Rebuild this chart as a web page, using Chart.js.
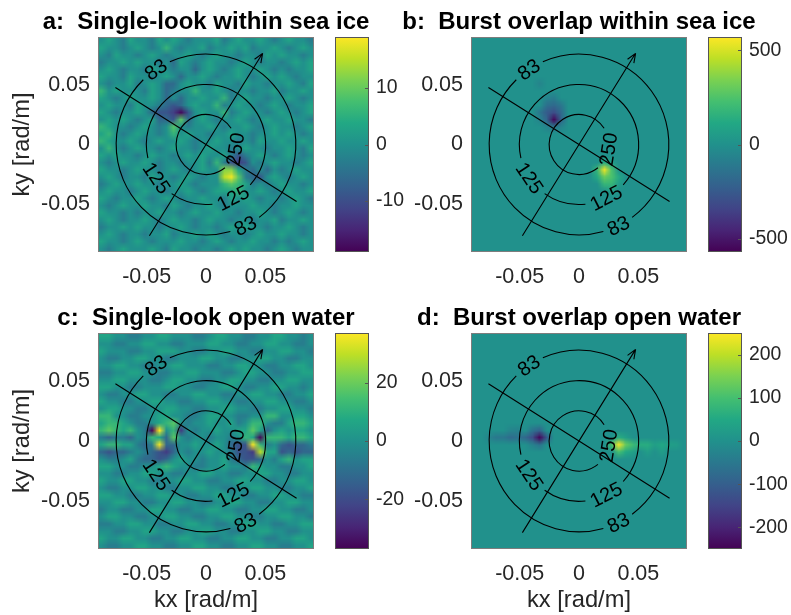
<!DOCTYPE html>
<html lang="en">
<head>
<meta charset="utf-8">
<title>Cross-spectra: sea ice and open water</title>
<script src="https://cdn.jsdelivr.net/npm/chart.js@4.4.1/dist/chart.umd.min.js"></script>
<style>
  html, body { margin: 0; background: #fff; }
  #figure { position: relative; width: 791px; height: 615px; overflow: hidden; }
  #figure canvas { position: absolute; }
</style>
</head>
<body>
<div id="figure"></div>
<script>
// ---- data -------------------------------------------------------------

const panelTitles = [
    'a:  Single-look within sea ice',
    'b:  Burst overlap within sea ice',
    'c:  Single-look open water',
    'd:  Burst overlap open water'
];

const kTicks = [-0.05, 0, 0.05];
const kTickLabels = ['-0.05', '0', '0.05'];
const kxLimit = 0.091;
const kyLimit = 0.09;

// wavelength rings (m) and the propagation cross
const ringWavelengths = [250, 125, 83];
const waveHeading = 58;        // degrees from +kx
const crossHalfLength = 0.09;  // rad/m

// colour limits and colourbar ticks per panel
const colorLimits = [19, 570, 37, 250];
const colorTicksA = [-10, 0, 10];
const colorTicksB = [-500, 0, 500];
const colorTicksC = [-20, 0, 20];
const colorTicksD = [-200, -100, 0, 100, 200];

// 30 x 30 spectra, rows from +ky (top) to -ky, columns from -kx to +kx.
// '.' = 0, 'A'..'I' = +1..+9 steps, 'a'..'i' = -1..-9 steps
const gridSize = 30;
const singleLookIceStep = 3;
const singleLookIce = [
    '.A.aA ..aA. A.a.. .Aa.A ..A.a .A..a',
    'A..a. A.a.B .a..A a..A. Aa..A .a.A.',
    '.aA.. a.A.a ..A.a .A..a ..aA. A..a.',
    'a..A. A..a. bA.a. A..a. A.a.. a.A.A',
    '.A.a. .aA.. a..b. A.a.A ..A.a .a..A',
    'A..aA ..a.A .b..A .a..A .a.A. A.a..',
    '.a..A a.A.b b.A.. aA..a A..a. .A.aA',
    'B.A.. .aA.b a..B. .A.a. .a..A a..A.',
    'A.a.A ..A.b .b..A ..Ba. A..a. .A.a.',
    '.A..a A..ab cb.A. .Ba.A ..a.A .a..A',
    'A.a.. A.bcc dfc.A ..Ba. A..a. A.a.A',
    '.A.A. a.Abb cCb.A .a..A .a.A. .A..a',
    'BA..a .A.a. C.a.. A.a.. A.a.A ..a.A',
    'AB.a. A..a. B.A.. a..A. .a..A .A.a.',
    'BA..A .a.A. .A.a. .A..a .aA.. A..A.',
    '.B.a. A..a. A..a. A..a. A..a. .A.aA',
    'A.A.. a.A.. a.A.A ..Aac a.A.a .A.a.',
    '.a.A. .A.a. .a..A aBacd c.a.A ..a.A',
    'A..a. A..a. A.a.A ..DDA ab.b. a.A..',
    '.A.a. .aA.. a.A.a ..EFC abc.A .a.A.',
    'a.A.. A..a. .A.a. ..BCB Aa.a. A..a.',
    '.A..a .A..a ..A.a .AAAB ..A.a .A..A',
    'A.a.. A.a.A .a..A ..aA. A.a.. a.A.a',
    '.a.A. .A..a A.a.. A.a.. .A..a ..A..',
    'A..a. a..A. .a.A. .A..a ..A.a .A.a.',
    '.A.a. .A.a. A..a. A..a. .a..A a..A.',
    'a..A. A..a. .A.a. .a.A. A..a. .A.a.',
    '.A.a. .a..A a..A. A.a.. a.A.. A..a.',
    'A..a. A.a.. .A..a .A.a. .A..a .a.A.',
    '.a.A. ..A.a A..a. .a.A. A..a. A.a..'
];

const singleLookWaterStep = 6;
const singleLookWater = [
    'AA..a a..AA ...aa .AA.. aa..A A..a.',
    '..aa. .AA.. aa... AA..a a..AA ..aa.',
    'A...a a..AA A..aa ..AA. .aa.. AA..a',
    '.aa.. AA..a a...A A..aa ..AA. .aa..',
    '..AA. .aa.. AA... aa..A A..aa ..AA.',
    'aa..A A..aa ..AA. ..aa. AA..a a..AA',
    '..AA. ..aa. AA..a a..AA ..aa. .AA..',
    'AA..a a...A A..aa ..AA. aa..A A..a.',
    '.aa.. AA..a a..AA ..aa. .AA.. aa..A',
    'A..aa ..AA. .aa.. AA..a a..AA ..aa.',
    '.AA.. aa..A A..aa ..AA. .aa.. AA..a',
    'BB..a a..AA ..aa. AA..a a..BB ..AA.',
    'ABBA. aa.AB C.a.. A..Aa .BB.a aABBA',
    'BCBAB .afF. Bd.a. .A..A ACAb. A.AA.',
    'abaab .aBAb C.a.. a..a. BAfBB BABBA',
    'ABBAA abaFb b..A. .A.bc cFBa. bcbba',
    'bcbba .abcd b.a.. A..ac cdEAA cbcbb',
    '.aa.A abbcb .A..a ..Aab ccb.a AB.AA',
    'AA..a a..AB A..aa ..A.. aBA.. aa..A',
    '..aa. .AA.. aa..A A..aa ..AA. .aa..',
    'A..AA ..aa. .AA.. aa..A A..aa ..AA.',
    '.aa.. AA..a a..AA ..aa. .AA.. aa..A',
    'AA..a a..AA ..aa. .AA.. aa..A A..aa',
    '..AA. .aa.. AA..a a..AA ..aa. .AA..',
    'a..aa ..AA. .aa.. AA..a a..AA ..aa.',
    '.AA.. aa..A A..aa ..AA. .aa.. AA..a',
    'aa..A A..aa ..AA. .aa.. AA..a a..AA',
    '..aa. .AA.. aa..A A..aa ..AA. .aa..',
    'A..AA ..aa. .AA.. aa..A A..aa ..AA.',
    '.aa.. AA..a a..AA ..aa. .AA.. aa..A'
];

// burst-overlap spectra are flat except for two lobes: [row, col, value]
const burstIceCells = [
    [6, 9, -60],
    [8, 10, -60], [8, 11, -90],
    [9, 10, -150], [9, 11, -180], [9, 12, -120],
    [10, 9, -120], [10, 10, -240], [10, 11, -300], [10, 12, -180],
    [11, 9, -60], [11, 10, -200], [11, 11, -550], [11, 12, -200],
    [12, 10, -60], [12, 11, -120], [12, 12, -60],
    [17, 18, 120], [17, 19, 60],
    [18, 17, 180], [18, 18, 540], [18, 19, 240],
    [19, 17, 120], [19, 18, 300], [19, 19, 240], [19, 20, 120],
    [20, 18, 180], [20, 19, 180], [20, 20, 60],
    [21, 19, 60]
];

const burstWaterCells = [
    [13, 5, -25], [13, 6, -30], [13, 8, -60], [13, 9, -90],
    [14, 2, -25], [14, 3, -50], [14, 4, -50], [14, 5, -75], [14, 6, -60],
    [14, 7, -80], [14, 8, -130], [14, 9, -240], [14, 10, -110],
    [15, 8, -30], [15, 9, -60],
    [14, 20, 60], [14, 21, 30],
    [15, 19, 100], [15, 20, 245], [15, 21, 130], [15, 22, 90], [15, 23, 60],
    [15, 24, 60], [15, 25, 30], [15, 26, 50], [15, 27, 30], [15, 28, 25],
    [16, 20, 100], [16, 21, 50], [16, 22, 30], [16, 24, 25], [16, 26, 25]
];

// ---- styling ----------------------------------------------------------

const FONT = '"Liberation Sans", Arial, Helvetica, sans-serif';
const INK = '#262626';
Chart.defaults.font.family = FONT;

const viridisStops = ['#440154', '#482475', '#414487', '#355f8d', '#2a788e', '#21918c',
                      '#22a884', '#44bf70', '#7ad151', '#bddf26', '#fde725'];

// label angles on each ring (degrees, counter-clockwise from +kx)
const ringLabelAngles = { 250: [-9], 125: [-146, -63], 83: [124, -64] };

// map canvases are centred on their plot so the wide titles fit
const layoutCols = [
    { mapLeft: 0, mapWidth: 412, axisWidth: 98, padRight: 98, barLeft: 330, barWidth: 80, barAxis: 41 },
    { mapLeft: 400, mapWidth: 358, axisWidth: 71, padRight: 71, barLeft: 703, barWidth: 88, barAxis: 49 }
];
const layoutRows = [
    { top: 0, height: 300, titlePad: 8.2, axisHeight: 48 },
    { top: 300, height: 315, titlePad: 4.2, axisHeight: 66 }
];
const titleLine = 28.8;

// ---- helpers ----------------------------------------------------------

function decodeRows(rows, step) {
    return rows.map(row => Array.from(row.replace(/ /g, ''), ch => {
        if (ch >= 'a' && ch <= 'i') return -(ch.charCodeAt(0) - 96) * step;
        if (ch >= 'A' && ch <= 'I') return (ch.charCodeAt(0) - 64) * step;
        return 0;
    }));
}

function sparseGrid(cells) {
    const g = Array.from({ length: gridSize }, () => new Array(gridSize).fill(0));
    cells.forEach(([r, c, v]) => { g[r][c] = v; });
    return g;
}

function hexToRgb(hex) {
    const n = parseInt(hex.slice(1), 16);
    return [(n >> 16) & 255, (n >> 8) & 255, n & 255];
}
const viridisRgb = viridisStops.map(hexToRgb);

function viridis(t) {
    t = Math.min(1, Math.max(0, t));
    const pos = t * (viridisRgb.length - 1);
    const i = Math.min(viridisRgb.length - 2, Math.floor(pos));
    const f = pos - i;
    return viridisRgb[i].map((v, k) => Math.round(v + (viridisRgb[i + 1][k] - v) * f));
}

function placeCanvas(left, top, width, height) {
    const c = document.createElement('canvas');
    c.width = width;
    c.height = height;
    c.style.left = left + 'px';
    c.style.top = top + 'px';
    c.style.width = width + 'px';
    c.style.height = height + 'px';
    document.getElementById('figure').appendChild(c);
    return c;
}

// ---- plugins ----------------------------------------------------------

function heatmapLayer(grid, limit) {
    return {
        id: 'heatmap',
        beforeDatasetsDraw(chart) {
            const { ctx, chartArea: area, scales: { x, y } } = chart;
            const rows = grid.length, cols = grid[0].length;
            const off = document.createElement('canvas');
            off.width = cols;
            off.height = rows;
            const octx = off.getContext('2d');
            const img = octx.createImageData(cols, rows);
            for (let r = 0; r < rows; r++) {
                for (let c = 0; c < cols; c++) {
                    const [R, G, B] = viridis((grid[r][c] + limit) / (2 * limit));
                    const o = (r * cols + c) * 4;
                    img.data[o] = R; img.data[o + 1] = G; img.data[o + 2] = B; img.data[o + 3] = 255;
                }
            }
            octx.putImageData(img, 0, 0);

            const left = x.getPixelForValue(-kxLimit), right = x.getPixelForValue(kxLimit);
            const top = y.getPixelForValue(kyLimit), bottom = y.getPixelForValue(-kyLimit);
            ctx.save();
            ctx.beginPath();
            ctx.rect(area.left, area.top, area.width, area.height);
            ctx.clip();
            ctx.imageSmoothingEnabled = true;
            ctx.drawImage(off, left, top, right - left, bottom - top);
            ctx.restore();
        }
    };
}

// bold title centred over the plot, allowed to run past the plot edges
function panelTitle(text, padTop) {
    return {
        id: 'panelTitle',
        afterDraw(chart) {
            const { ctx, chartArea: area } = chart;
            ctx.save();
            ctx.fillStyle = '#000';
            ctx.font = 'bold 24px ' + FONT;
            ctx.textAlign = 'center';
            ctx.textBaseline = 'middle';
            ctx.fillText(text, (area.left + area.right) / 2, padTop + titleLine / 2);
            ctx.restore();
        }
    };
}

const waveOverlay = {
    id: 'waveOverlay',
    afterDraw(chart) {
        const { ctx, chartArea: area, scales: { x, y } } = chart;
        const cx = x.getPixelForValue(0), cy = y.getPixelForValue(0);
        ctx.save();
        ctx.strokeStyle = '#000';
        ctx.fillStyle = '#000';
        ctx.lineWidth = 1.1;
        ctx.font = '20px ' + FONT;
        ctx.textAlign = 'center';
        ctx.textBaseline = 'middle';

        ringWavelengths.forEach(wl => {
            const k = 2 * Math.PI / wl;
            const rx = x.getPixelForValue(k) - cx;
            const ry = cy - y.getPixelForValue(k);
            const label = String(wl);
            const half = (ctx.measureText(label).width / 2 + 5) / rx;
            const centres = (ringLabelAngles[wl] || []).map(d => d * Math.PI / 180).sort((p, q) => p - q);
            if (!centres.length) {
                ctx.beginPath();
                ctx.ellipse(cx, cy, rx, ry, 0, 0, 2 * Math.PI);
                ctx.stroke();
                return;
            }
            centres.forEach((c, i) => {
                const next = i + 1 < centres.length ? centres[i + 1] : centres[0] + 2 * Math.PI;
                ctx.beginPath();
                ctx.ellipse(cx, cy, rx, ry, 0, -(c + half), -(next - half), true);
                ctx.stroke();
            });
            centres.forEach(c => {
                let dir = c + Math.PI / 2;
                while (dir > Math.PI / 2) dir -= Math.PI;
                while (dir <= -Math.PI / 2) dir += Math.PI;
                ctx.save();
                ctx.translate(cx + rx * Math.cos(c), cy - ry * Math.sin(c));
                ctx.rotate(-dir);
                ctx.fillText(label, 0, 1);
                ctx.restore();
            });
        });

        // propagation arrow and the crest line across it
        const h = waveHeading * Math.PI / 180;
        const p = h - Math.PI / 2;
        const px = (kx, ky) => [x.getPixelForValue(kx), y.getPixelForValue(ky)];
        const [a0x, a0y] = px(-crossHalfLength * Math.cos(h), -crossHalfLength * Math.sin(h));
        const [a1x, a1y] = px(crossHalfLength * Math.cos(h), crossHalfLength * Math.sin(h));
        const [b0x, b0y] = px(-crossHalfLength * Math.cos(p), -crossHalfLength * Math.sin(p));
        const [b1x, b1y] = px(crossHalfLength * Math.cos(p), crossHalfLength * Math.sin(p));
        ctx.beginPath();
        ctx.moveTo(a0x, a0y); ctx.lineTo(a1x, a1y);
        ctx.moveTo(b0x, b0y); ctx.lineTo(b1x, b1y);
        const ang = Math.atan2(a1y - a0y, a1x - a0x);
        [-1, 1].forEach(s => {
            const a = ang + Math.PI + s * 0.38;
            ctx.moveTo(a1x, a1y);
            ctx.lineTo(a1x + 10 * Math.cos(a), a1y + 10 * Math.sin(a));
        });
        ctx.stroke();

        // axes box
        ctx.lineWidth = 1;
        ctx.strokeStyle = '#7d7d7d';
        ctx.strokeRect(Math.round(area.left) + 0.5, Math.round(area.top) + 0.5,
                       Math.round(area.width) - 1, Math.round(area.height) - 1);
        ctx.restore();
    }
};

const colorbarFrame = {
    id: 'colorbarFrame',
    afterDatasetsDraw(chart) {
        const { ctx, chartArea: a, scales: { y } } = chart;
        ctx.save();
        ctx.strokeStyle = '#555';
        ctx.lineWidth = 1;
        ctx.strokeRect(Math.round(a.left) + 0.5, Math.round(a.top) + 0.5,
                       Math.round(a.width) - 1, Math.round(a.height) - 1);
        ctx.beginPath();
        y.ticks.forEach(t => {
            const py = Math.round(y.getPixelForValue(t.value)) + 0.5;
            ctx.moveTo(a.right - 4, py);
            ctx.lineTo(a.right - 1, py);
        });
        ctx.stroke();
        ctx.restore();
    }
};

// ---- charts -----------------------------------------------------------

function renderSpectrum(panel) {
    const col = layoutCols[panel.col], row = layoutRows[panel.row];
    const canvas = placeCanvas(col.mapLeft, row.top, col.mapWidth, row.height);
    new Chart(canvas, {
        type: 'scatter',
        data: { datasets: [] },
        options: {
            responsive: false,
            animation: false,
            events: [],
            layout: { padding: { left: 0, right: col.padRight, top: row.titlePad + titleLine, bottom: 0 } },
            plugins: {
                legend: { display: false },
                tooltip: { enabled: false },
                title: { display: false }
            },
            scales: {
                x: {
                    type: 'linear',
                    min: -kxLimit,
                    max: kxLimit,
                    z: 1,
                    afterBuildTicks: s => { s.ticks = kTicks.map(v => ({ value: v })); },
                    afterFit: s => { s.height = row.axisHeight; },
                    ticks: {
                        callback: (v, i) => kTickLabels[i],
                        color: INK,
                        font: { family: FONT, size: 21.5 },
                        padding: 12,
                        maxRotation: 0,
                        autoSkip: false
                    },
                    grid: { color: 'rgba(38,38,38,0.17)', drawTicks: false },
                    border: { display: false },
                    title: {
                        display: panel.row === 1,
                        text: 'kx [rad/m]',
                        color: INK,
                        font: { family: FONT, size: 23.7 },
                        padding: { top: 0, bottom: 0.8 }
                    }
                },
                y: {
                    type: 'linear',
                    min: -kyLimit,
                    max: kyLimit,
                    z: 1,
                    afterBuildTicks: s => { s.ticks = kTicks.map(v => ({ value: v })); },
                    afterFit: s => { s.width = col.axisWidth; },
                    ticks: {
                        callback: (v, i) => kTickLabels[i],
                        color: INK,
                        font: { family: FONT, size: 21.5 },
                        padding: 8,
                        autoSkip: false
                    },
                    grid: { color: 'rgba(38,38,38,0.17)', drawTicks: false },
                    border: { display: false },
                    title: {
                        display: panel.col === 0,
                        text: 'ky [rad/m]',
                        color: INK,
                        font: { family: FONT, size: 23.7 },
                        padding: { top: 7.8, bottom: 0 }
                    }
                }
            }
        },
        plugins: [heatmapLayer(panel.grid, panel.limit), waveOverlay, panelTitle(panel.title, row.titlePad)]
    });
}

function renderColorbar(panel) {
    const col = layoutCols[panel.col], row = layoutRows[panel.row];
    const canvas = placeCanvas(col.barLeft, row.top, col.barWidth, row.height);
    new Chart(canvas, {
        type: 'bar',
        data: {
            labels: [''],
            datasets: [{
                data: [[-panel.limit, panel.limit]],
                backgroundColor: context => {
                    const { ctx, chartArea } = context.chart;
                    if (!chartArea) return viridisStops[5];
                    const g = ctx.createLinearGradient(0, chartArea.bottom, 0, chartArea.top);
                    viridisStops.forEach((c, i) => g.addColorStop(i / (viridisStops.length - 1), c));
                    return g;
                },
                borderWidth: 0,
                barPercentage: 1,
                categoryPercentage: 1
            }]
        },
        options: {
            responsive: false,
            animation: false,
            events: [],
            layout: { padding: { left: 5, right: 0, top: row.titlePad + titleLine, bottom: row.axisHeight } },
            plugins: { legend: { display: false }, tooltip: { enabled: false } },
            scales: {
                x: { display: false },
                y: {
                    position: 'right',
                    min: -panel.limit,
                    max: panel.limit,
                    afterBuildTicks: s => { s.ticks = panel.ticks.map(v => ({ value: v })); },
                    afterFit: s => { s.width = col.barAxis; },
                    ticks: {
                        callback: v => String(v),
                        color: INK,
                        font: { family: FONT, size: 19.4 },
                        padding: 7,
                        autoSkip: false
                    },
                    grid: { display: false, drawTicks: false },
                    border: { display: false }
                }
            }
        },
        plugins: [colorbarFrame]
    });
}

const panels = [
    { title: panelTitles[0], col: 0, row: 0, limit: colorLimits[0], ticks: colorTicksA,
      grid: decodeRows(singleLookIce, singleLookIceStep) },
    { title: panelTitles[1], col: 1, row: 0, limit: colorLimits[1], ticks: colorTicksB,
      grid: sparseGrid(burstIceCells) },
    { title: panelTitles[2], col: 0, row: 1, limit: colorLimits[2], ticks: colorTicksC,
      grid: decodeRows(singleLookWater, singleLookWaterStep) },
    { title: panelTitles[3], col: 1, row: 1, limit: colorLimits[3], ticks: colorTicksD,
      grid: sparseGrid(burstWaterCells) }
];

panels.forEach(p => {
    renderSpectrum(p);
    renderColorbar(p);
});
</script>
</body>
</html>
